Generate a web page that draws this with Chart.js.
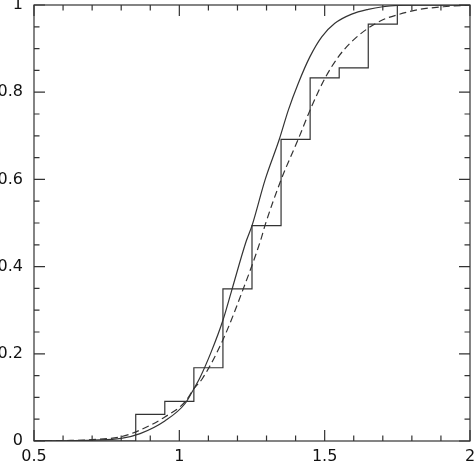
<!DOCTYPE html>
<html>
<head>
<meta charset="utf-8">
<script src="https://cdn.jsdelivr.net/npm/chart.js@4.4.1/dist/chart.umd.min.js"></script>
<style>
  html, body { margin: 0; padding: 0; background: #fff; }
  #wrap { width: 474px; height: 462px; position: relative; }
</style>
</head>
<body>
<div id="wrap"><canvas id="c"></canvas></div>
<script>
// Step (empirical cumulative) distribution
const stepX = [0.5, 0.85, 0.95, 1.05, 1.15, 1.25, 1.35, 1.45, 1.55, 1.65, 1.75, 2.0];
const stepY = [0, 0.061, 0.091, 0.168, 0.349, 0.494, 0.692, 0.833, 0.856, 0.956, 1.0, 1.0];

// Solid model curve
const solidX = [0.5, 0.6, 0.7, 0.8, 0.865, 0.95, 1.02, 1.05, 1.07, 1.11, 1.15, 1.18, 1.23, 1.25, 1.295, 1.344, 1.375, 1.409, 1.449, 1.49, 1.535, 1.593, 1.65, 1.70, 1.75, 1.85, 2.0];
const solidY = [0, 0.0005, 0.002, 0.006, 0.017, 0.046, 0.086, 0.12, 0.144, 0.205, 0.277, 0.345, 0.458, 0.494, 0.599, 0.692, 0.759, 0.82, 0.881, 0.927, 0.958, 0.979, 0.99, 0.996, 0.999, 1.0, 1.0];

// Dashed model curve
const dashX = [0.5, 0.6, 0.7, 0.8, 0.865, 0.95, 1.02, 1.05, 1.08, 1.15, 1.22, 1.28, 1.295, 1.35, 1.409, 1.455, 1.501, 1.547, 1.593, 1.65, 1.70, 1.748, 1.828, 1.908, 2.0];
const dashY = [0, 0.001, 0.003, 0.01, 0.025, 0.055, 0.09, 0.12, 0.144, 0.232, 0.349, 0.461, 0.495, 0.599, 0.692, 0.767, 0.832, 0.881, 0.916, 0.947, 0.966, 0.977, 0.99, 0.996, 1.0];

// Axis ticks
const xMajorTicks = [0.5, 1, 1.5, 2];
const yMajorTicks = [0, 0.2, 0.4, 0.6, 0.8, 1];
const xMinorStep = 0.1;
const yMinorStep = 0.05;

const pts = (xs, ys) => xs.map((x, i) => ({ x: x, y: ys[i] }));

const INK = '#333';

const framePlugin = {
  id: 'frameTicks',
  afterDatasetsDraw(chart) {
    const { ctx, chartArea: a, scales: { x, y } } = chart;
    ctx.save();
    ctx.strokeStyle = INK;
    ctx.lineWidth = 1.2;
    ctx.strokeRect(a.left, a.top, a.right - a.left, a.bottom - a.top);
    ctx.beginPath();
    const nx = Math.round((x.max - x.min) / xMinorStep);
    for (let i = 0; i <= nx; i++) {
      const v = x.min + i * xMinorStep;
      const major = Math.abs(v * 2 - Math.round(v * 2)) < 1e-6;
      const len = major ? 11 : 5.5;
      const px = x.getPixelForValue(v);
      ctx.moveTo(px, a.bottom); ctx.lineTo(px, a.bottom - len);
      ctx.moveTo(px, a.top); ctx.lineTo(px, a.top + len);
    }
    const ny = Math.round((y.max - y.min) / yMinorStep);
    for (let i = 0; i <= ny; i++) {
      const v = y.min + i * yMinorStep;
      const major = i % 4 === 0;
      const len = major ? 11 : 5.5;
      const py = y.getPixelForValue(v);
      ctx.moveTo(a.left, py); ctx.lineTo(a.left + len, py);
      ctx.moveTo(a.right, py); ctx.lineTo(a.right - len, py);
    }
    ctx.stroke();
    ctx.restore();
  }
};

const zeroPad = (s) => { s.paddingTop = 0; s.paddingBottom = 0; s.paddingLeft = 0; s.paddingRight = 0; };

Chart.defaults.font.family = '"DejaVu Sans", sans-serif';
Chart.defaults.font.size = 16;
Chart.defaults.color = '#111';

new Chart(document.getElementById('c'), {
  type: 'line',
  data: {
    datasets: [
      {
        data: pts(stepX, stepY),
        stepped: 'before',
        borderColor: INK,
        borderWidth: 1.2,
        pointRadius: 0,
        fill: false
      },
      {
        data: pts(solidX, solidY),
        borderColor: INK,
        borderWidth: 1.2,
        pointRadius: 0,
        cubicInterpolationMode: 'monotone',
        fill: false
      },
      {
        data: pts(dashX, dashY),
        borderColor: INK,
        borderWidth: 1.2,
        borderDash: [7, 4],
        pointRadius: 0,
        cubicInterpolationMode: 'monotone',
        fill: false
      }
    ]
  },
  options: {
    responsive: true,
    maintainAspectRatio: false,
    devicePixelRatio: 1,
    animation: false,
    events: [],
    layout: { autoPadding: false, padding: { top: 5, right: 4, left: 0, bottom: 0 } },
    plugins: { legend: { display: false }, tooltip: { enabled: false } },
    scales: {
      x: {
        type: 'linear',
        min: 0.5,
        max: 2,
        afterBuildTicks: (s) => { s.ticks = xMajorTicks.map(v => ({ value: v })); },
        ticks: { autoSkip: false, maxRotation: 0, padding: 6, callback: (v) => String(+v.toFixed(1)) },
        grid: { display: false, drawTicks: false },
        border: { display: false },
        afterFit: (s) => { s.height = 21; zeroPad(s); }
      },
      y: {
        type: 'linear',
        min: 0,
        max: 1,
        afterBuildTicks: (s) => { s.ticks = yMajorTicks.map(v => ({ value: v })); },
        ticks: { autoSkip: false, padding: 11, callback: (v) => String(+v.toFixed(1)) },
        grid: { display: false, drawTicks: false },
        border: { display: false },
        afterFit: (s) => { s.width = 34; zeroPad(s); }
      }
    }
  },
  plugins: [framePlugin]
});
</script>
</body>
</html>
